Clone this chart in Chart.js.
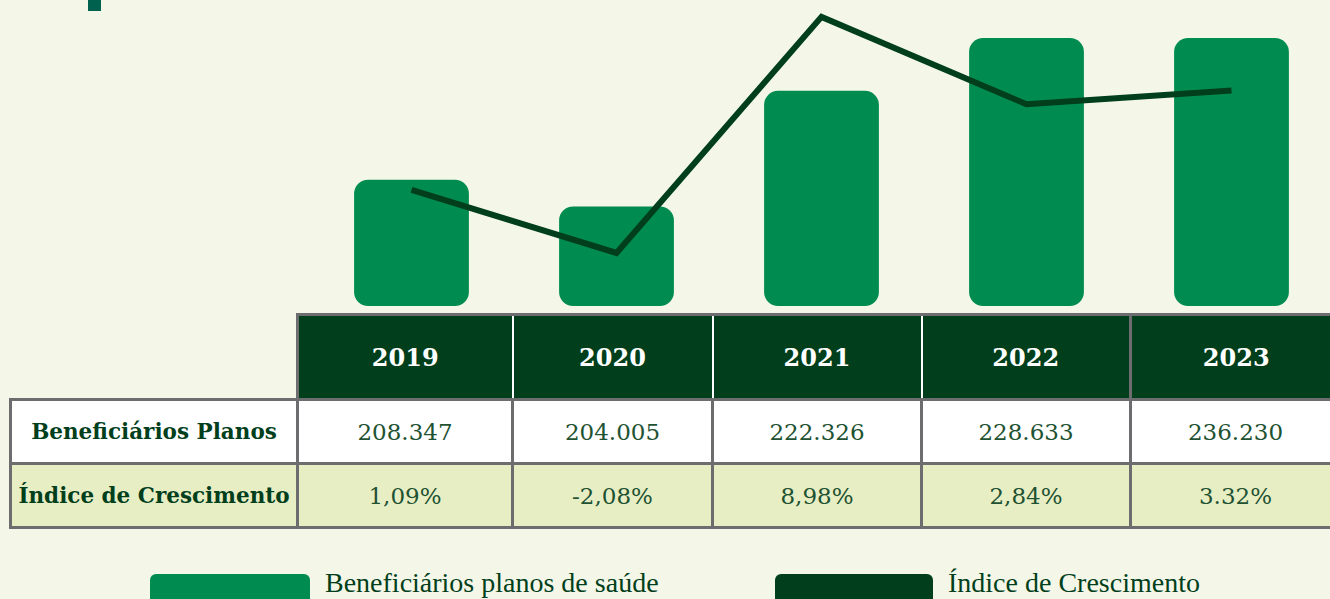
<!DOCTYPE html>
<html>
<head>
<meta charset="utf-8">
<script src="https://cdn.jsdelivr.net/npm/chart.js@4/dist/chart.umd.min.js"></script>
<style>
  html, body { margin: 0; padding: 0; }
  body { width: 1330px; height: 599px; overflow: hidden; background: #F4F7E7; position: relative; font-family: "DejaVu Serif", serif; }
  #mark { position: absolute; left: 88px; top: 0; width: 13px; height: 11px; background: #00614F; }
  #chart { position: absolute; left: 309px; top: 0; }
  table { position: absolute; left: 9px; top: 313px; border-collapse: collapse; table-layout: fixed; width: 1330px; }
  td, th { text-align: center; padding: 0; }
  th { background: #013F1C; color: #fff; font-weight: bold; font-size: 24px; height: 82px; border-left: 2px solid #fff; border-top: 3px solid #6D6D70; }
  th.blank { background: transparent; border: none; }
  th.first { border-left: 3px solid #6D6D70; }
  th.gray { border-left: 3px solid #6D6D70; }
  td { border: 3px solid #6D6D70; color: #1E5232; font-size: 23px; height: 61px; }
  td.lbl { font-weight: bold; color: #013F1C; font-size: 21.5px; }
  tr.r1 td { background: #fff; }
  tr.r2 td { background: #E8EEC4; }
  .leg { position: absolute; top: 574px; height: 30px; border-radius: 6px; }
  .legt { position: absolute; top: 567px; font-family: "Liberation Serif", serif; font-size: 28px; color: #013F1C; }
</style>
</head>
<body>
<div id="mark"></div>
<canvas id="chart" width="1025" height="306"></canvas>
<table id="tbl"></table>
<div class="leg" style="left:150px;width:160px;background:#008C50"></div>
<div class="legt" style="left:325px">Beneficiários planos de saúde</div>
<div class="leg" style="left:775px;width:158px;background:#013F1C"></div>
<div class="legt" style="left:948px">Índice de Crescimento</div>
<script>
const years = ['2019', '2020', '2021', '2022', '2023'];
// valores da tabela
const beneficiariosTxt = ['208.347', '204.005', '222.326', '228.633', '236.230'];
const indiceTxt = ['1,09%', '-2,08%', '8,98%', '2,84%', '3.32%'];
// alturas (milhares)
const barValues = [208.3, 204.0, 222.6, 231.1, 231.1];
// pontos da linha (%)
const lineValues = [1.09, -2.08, 9.8, 5.4, 6.1];
const barMin = 188;

const colW = [287, 215, 200, 209, 209, 210];

// tabela
const tbl = document.getElementById('tbl');
let html = '<colgroup>';
colW.forEach(w => html += `<col style="width:${w}px">`);
html += '</colgroup><tr><th class="blank"></th>';
years.forEach((y, i) => {
    let cls = i === 0 ? 'first' : (i === 4 ? 'gray' : '');
    html += `<th class="${cls}">${y}</th>`;
});
html += '</tr><tr class="r1"><td class="lbl">Beneficiários Planos</td>';
beneficiariosTxt.forEach(v => html += `<td>${v}</td>`);
html += '</tr><tr class="r2"><td class="lbl">Índice de Crescimento</td>';
indiceTxt.forEach(v => html += `<td>${v}</td>`);
html += '</tr>';
tbl.innerHTML = html;

new Chart(document.getElementById('chart'), {
    type: 'bar',
    data: {
        labels: years,
        datasets: [
            {
                type: 'line',
                label: 'Índice de Crescimento',
                data: lineValues,
                yAxisID: 'y2',
                borderColor: '#013F1C',
                borderWidth: 6,
                pointRadius: 0,
                tension: 0,
                order: 0
            },
            {
                label: 'Beneficiários planos de saúde',
                data: barValues,
                base: barMin,
                backgroundColor: '#008C50',
                borderRadius: 14,
                borderSkipped: false,
                barPercentage: 0.56,
                categoryPercentage: 1,
                order: 1
            }
        ]
    },
    options: {
        responsive: false,
        devicePixelRatio: 1,
        animation: false,
        layout: { padding: 0 },
        plugins: { legend: { display: false }, tooltip: { enabled: false } },
        scales: {
            x: { display: false, offset: true },
            y: { display: false, min: barMin, max: 237.2 },
            y2: { display: false, min: -4.75, max: 10.65 }
        }
    }
});
</script>
</body>
</html>
